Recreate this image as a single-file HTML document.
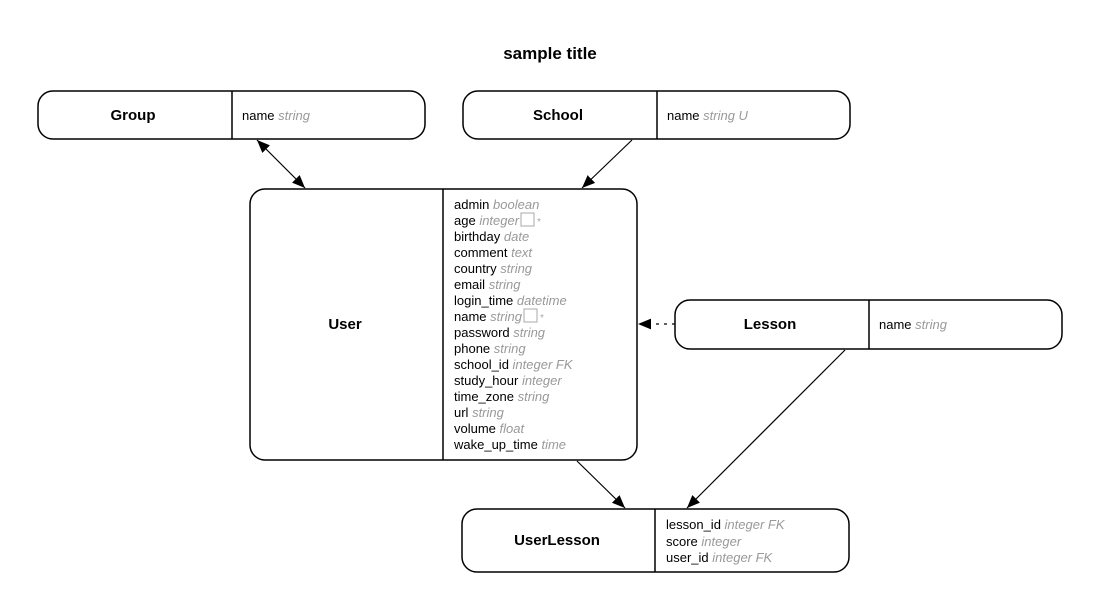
<!DOCTYPE html>
<html><head><meta charset="utf-8"><style>
body{margin:0;background:#fff}
svg text{font-family:"Liberation Sans",sans-serif}
.t{font-size:15px;font-weight:bold;text-anchor:middle}
.f{font-size:13px;fill:#000}
.g{fill:#999;font-style:italic}
.b{fill:#fff;stroke:#000;stroke-width:1.5}
</style></head><body>
<svg width="1101" height="611" viewBox="0 0 1101 611" xmlns="http://www.w3.org/2000/svg">
<defs><marker id="a" viewBox="0 0 12 12" refX="12" refY="6" markerWidth="13" markerHeight="13" markerUnits="userSpaceOnUse" orient="auto-start-reverse"><path d="M0,1 L12,6 L0,11z" fill="#000"/></marker></defs>
<text x="550" y="59" class="t" style="font-size:17px">sample title</text>
<line x1="257" y1="140" x2="305" y2="188" stroke="#000" stroke-width="1.2" marker-start="url(#a)" marker-end="url(#a)"/>
<line x1="632" y1="140" x2="582" y2="188" stroke="#000" stroke-width="1.2" marker-end="url(#a)"/>
<line x1="675" y1="324" x2="638" y2="324" stroke="#000" stroke-width="1.2" stroke-dasharray="3,5" marker-end="url(#a)"/>
<line x1="577" y1="461" x2="625" y2="508" stroke="#000" stroke-width="1.2" marker-end="url(#a)"/>
<line x1="845" y1="350" x2="687" y2="508" stroke="#000" stroke-width="1.2" marker-end="url(#a)"/>
<rect class="b" x="38" y="91" width="387" height="48" rx="15"/>
<line x1="232" y1="91" x2="232" y2="139" stroke="#000" stroke-width="1.5"/>
<text class="t" x="133" y="120">Group</text>
<text class="f" x="242" y="120">name <tspan class="g">string</tspan></text>
<rect class="b" x="463" y="91" width="387" height="48" rx="15"/>
<line x1="657" y1="91" x2="657" y2="139" stroke="#000" stroke-width="1.5"/>
<text class="t" x="558" y="120">School</text>
<text class="f" x="667" y="120">name <tspan class="g">string U</tspan></text>
<rect class="b" x="250" y="189" width="387" height="271" rx="15"/>
<line x1="443" y1="189" x2="443" y2="460" stroke="#000" stroke-width="1.5"/>
<text class="t" x="345" y="329">User</text>
<g class="f">
<text x="454" y="209">admin <tspan class="g">boolean</tspan></text>
<text x="454" y="225">age <tspan class="g">integer</tspan></text>
<text x="454" y="241">birthday <tspan class="g">date</tspan></text>
<text x="454" y="257">comment <tspan class="g">text</tspan></text>
<text x="454" y="273">country <tspan class="g">string</tspan></text>
<text x="454" y="289">email <tspan class="g">string</tspan></text>
<text x="454" y="305">login_time <tspan class="g">datetime</tspan></text>
<text x="454" y="321">name <tspan class="g">string</tspan></text>
<text x="454" y="337">password <tspan class="g">string</tspan></text>
<text x="454" y="353">phone <tspan class="g">string</tspan></text>
<text x="454" y="369">school_id <tspan class="g">integer FK</tspan></text>
<text x="454" y="385">study_hour <tspan class="g">integer</tspan></text>
<text x="454" y="401">time_zone <tspan class="g">string</tspan></text>
<text x="454" y="417">url <tspan class="g">string</tspan></text>
<text x="454" y="433">volume <tspan class="g">float</tspan></text>
<text x="454" y="449">wake_up_time <tspan class="g">time</tspan></text>
</g>
<rect x="521" y="213" width="13" height="13" fill="none" stroke="#aaa"/>
<text x="537" y="225" style="font-size:10px;fill:#aaa">*</text>
<rect x="524" y="309" width="13" height="13" fill="none" stroke="#aaa"/>
<text x="540" y="321" style="font-size:10px;fill:#aaa">*</text>
<rect class="b" x="675" y="300" width="387" height="49" rx="15"/>
<line x1="869" y1="300" x2="869" y2="349" stroke="#000" stroke-width="1.5"/>
<text class="t" x="770" y="329">Lesson</text>
<text class="f" x="879" y="329">name <tspan class="g">string</tspan></text>
<rect class="b" x="462" y="509" width="387" height="63" rx="15"/>
<line x1="655" y1="509" x2="655" y2="572" stroke="#000" stroke-width="1.5"/>
<text class="t" x="557" y="545">UserLesson</text>
<g class="f">
<text x="666" y="529">lesson_id <tspan class="g">integer FK</tspan></text>
<text x="666" y="546">score <tspan class="g">integer</tspan></text>
<text x="666" y="562">user_id <tspan class="g">integer FK</tspan></text>
</g>
</svg>
</body></html>
